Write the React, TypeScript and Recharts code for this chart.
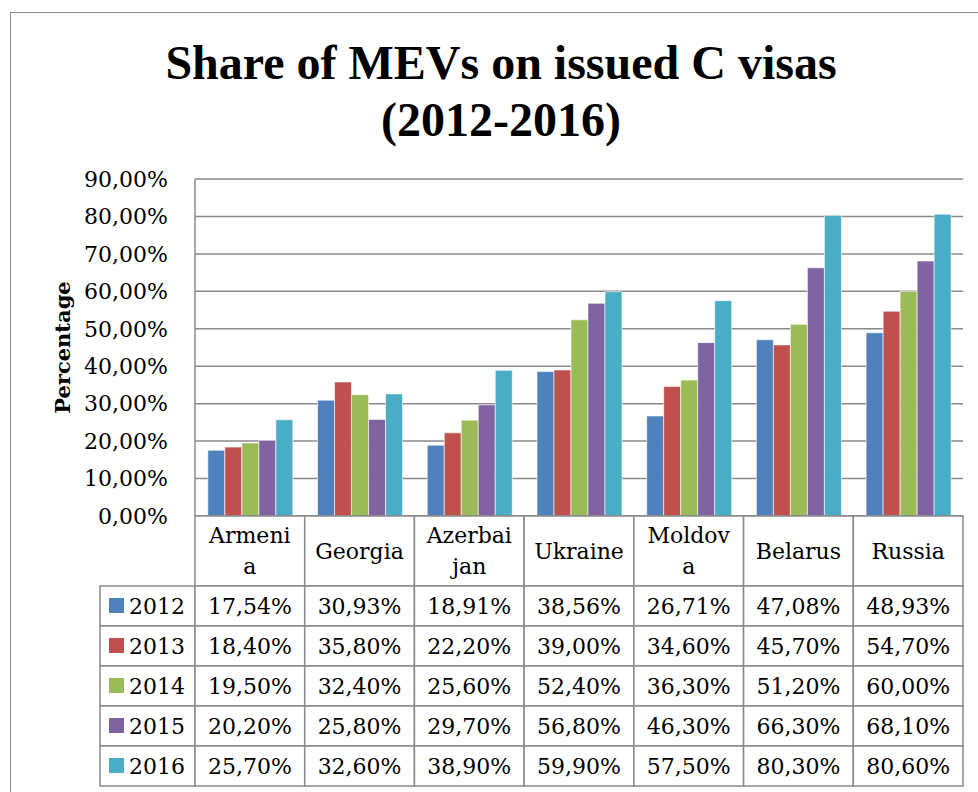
import { Bar, BarChart, CartesianGrid, XAxis, YAxis } from "recharts";

const countries = ["Armenia", "Georgia", "Azerbaijan", "Ukraine", "Moldova", "Belarus", "Russia"];
// header cells wrap the way the original table does
const headerLines = [["Armeni", "a"], ["Georgia"], ["Azerbai", "jan"], ["Ukraine"], ["Moldov", "a"], ["Belarus"], ["Russia"]];
const years = ["2012", "2013", "2014", "2015", "2016"];
const v2012 = [17.54, 30.93, 18.91, 38.56, 26.71, 47.08, 48.93];
const v2013 = [18.4, 35.8, 22.2, 39.0, 34.6, 45.7, 54.7];
const v2014 = [19.5, 32.4, 25.6, 52.4, 36.3, 51.2, 60.0];
const v2015 = [20.2, 25.8, 29.7, 56.8, 46.3, 66.3, 68.1];
const v2016 = [25.7, 32.6, 38.9, 59.9, 57.5, 80.3, 80.6];
const yTicks = [0, 10, 20, 30, 40, 50, 60, 70, 80, 90];

const series = [v2012, v2013, v2014, v2015, v2016];
const colors = ["#4F81BD", "#C0504D", "#9BBB59", "#8064A2", "#4BACC6"];

const data = countries.map((c, i) => {
  const row: Record<string, any> = { country: c };
  years.forEach((y, k) => (row[y] = series[k][i]));
  return row;
});

const FONT = "'DejaVu Serif', serif";
const GRID = "#8a8a8a";
const HEAD_H = 70;
const ROW_H = 40;
const LEGEND_W = 95;

const pct = (v: number) => v.toFixed(2).replace(".", ",") + "%";

function TableTick(props: any) {
  const { x, y, payload, index } = props;
  const half = payload.offset ?? 55;
  const left = x - half;
  const w = half * 2;
  const i = countries.indexOf(payload.value);
  const lines = headerLines[i];
  const cell = { fill: "#fff", stroke: GRID, strokeWidth: 1.5 };
  const txt = { fontFamily: FONT, fontSize: 22, fill: "#000" };
  return (
    <g>
      <rect x={left} y={y} width={w} height={HEAD_H} {...cell} />
      {lines.map((l: string, j: number) => (
        <text
          key={j}
          x={x}
          y={y + HEAD_H / 2 + (j - (lines.length - 1) / 2) * 31}
          textAnchor="middle"
          dominantBaseline="central"
          {...txt}
        >
          {l}
        </text>
      ))}
      {years.map((yr, k) => (
        <g key={yr}>
          {index === 0 && (
            <g>
              <rect x={left - LEGEND_W} y={y + HEAD_H + k * ROW_H} width={LEGEND_W} height={ROW_H} {...cell} />
              <rect x={left - LEGEND_W + 9} y={y + HEAD_H + k * ROW_H + 12} width={15} height={15} fill={colors[k]} />
              <text x={left - LEGEND_W + 29} y={y + HEAD_H + k * ROW_H + ROW_H / 2} dominantBaseline="central" {...txt}>
                {yr}
              </text>
            </g>
          )}
          <rect x={left} y={y + HEAD_H + k * ROW_H} width={w} height={ROW_H} {...cell} />
          <text x={x} y={y + HEAD_H + k * ROW_H + ROW_H / 2} textAnchor="middle" dominantBaseline="central" {...txt}>
            {pct(series[k][i])}
          </text>
        </g>
      ))}
    </g>
  );
}

function AxisTitle(props: any) {
  const { viewBox } = props;
  const cx = viewBox.x - 23;
  const cy = viewBox.y + viewBox.height / 2;
  return (
    <text
      x={cx}
      y={cy}
      transform={`rotate(-90, ${cx}, ${cy})`}
      textAnchor="middle"
      dominantBaseline="central"
      fontFamily={FONT}
      fontWeight="bold"
      fontSize={21}
      fill="#000"
    >
      Percentage
    </text>
  );
}

export default function App() {
  return (
    <div style={{ position: "absolute", left: 0, top: 0, width: 978, height: 792, background: "#fff" }}>
      <div
        style={{
          position: "absolute",
          left: 10,
          top: 12,
          right: 0,
          bottom: 0,
          borderLeft: `1.5px solid ${GRID}`,
          borderTop: `1.5px solid ${GRID}`,
        }}
      />
      <div
        style={{
          position: "absolute",
          left: 12,
          top: 34,
          width: 978,
          textAlign: "center",
          fontFamily: "'Liberation Serif', serif",
          fontWeight: "bold",
          fontSize: 48,
          lineHeight: "57px",
          color: "#000",
        }}
      >
        Share of MEVs on issued C visas
        <br />
        (2012-2016)
      </div>
      <div style={{ position: "absolute", left: 0, top: 0 }}>
        <BarChart
          width={978}
          height={792}
          data={data}
          margin={{ top: 179, right: 15, left: 85, bottom: 5 }}
          barCategoryGap="11.7%"
          barGap={0}
        >
          <CartesianGrid vertical={false} stroke={GRID} strokeWidth={1.5} />
          <XAxis
            dataKey="country"
            height={271}
            interval={0}
            tickSize={0}
            tickMargin={0}
            tickLine={false}
            axisLine={{ stroke: GRID, strokeWidth: 1.5 }}
            tick={<TableTick />}
          />
          <YAxis
            width={110}
            domain={[0, 90]}
            ticks={yTicks}
            interval={0}
            tickSize={0}
            tickMargin={27}
            tickLine={false}
            axisLine={{ stroke: GRID, strokeWidth: 1.5 }}
            tickFormatter={pct}
            tick={{ fontFamily: FONT, fontSize: 22, fill: "#000" }}
            label={<AxisTitle />}
          />
          {years.map((y, k) => (
            <Bar key={y} dataKey={y} fill={colors[k]} stroke="#fff" strokeWidth={0.6} isAnimationActive={false} />
          ))}
        </BarChart>
      </div>
    </div>
  );
}
